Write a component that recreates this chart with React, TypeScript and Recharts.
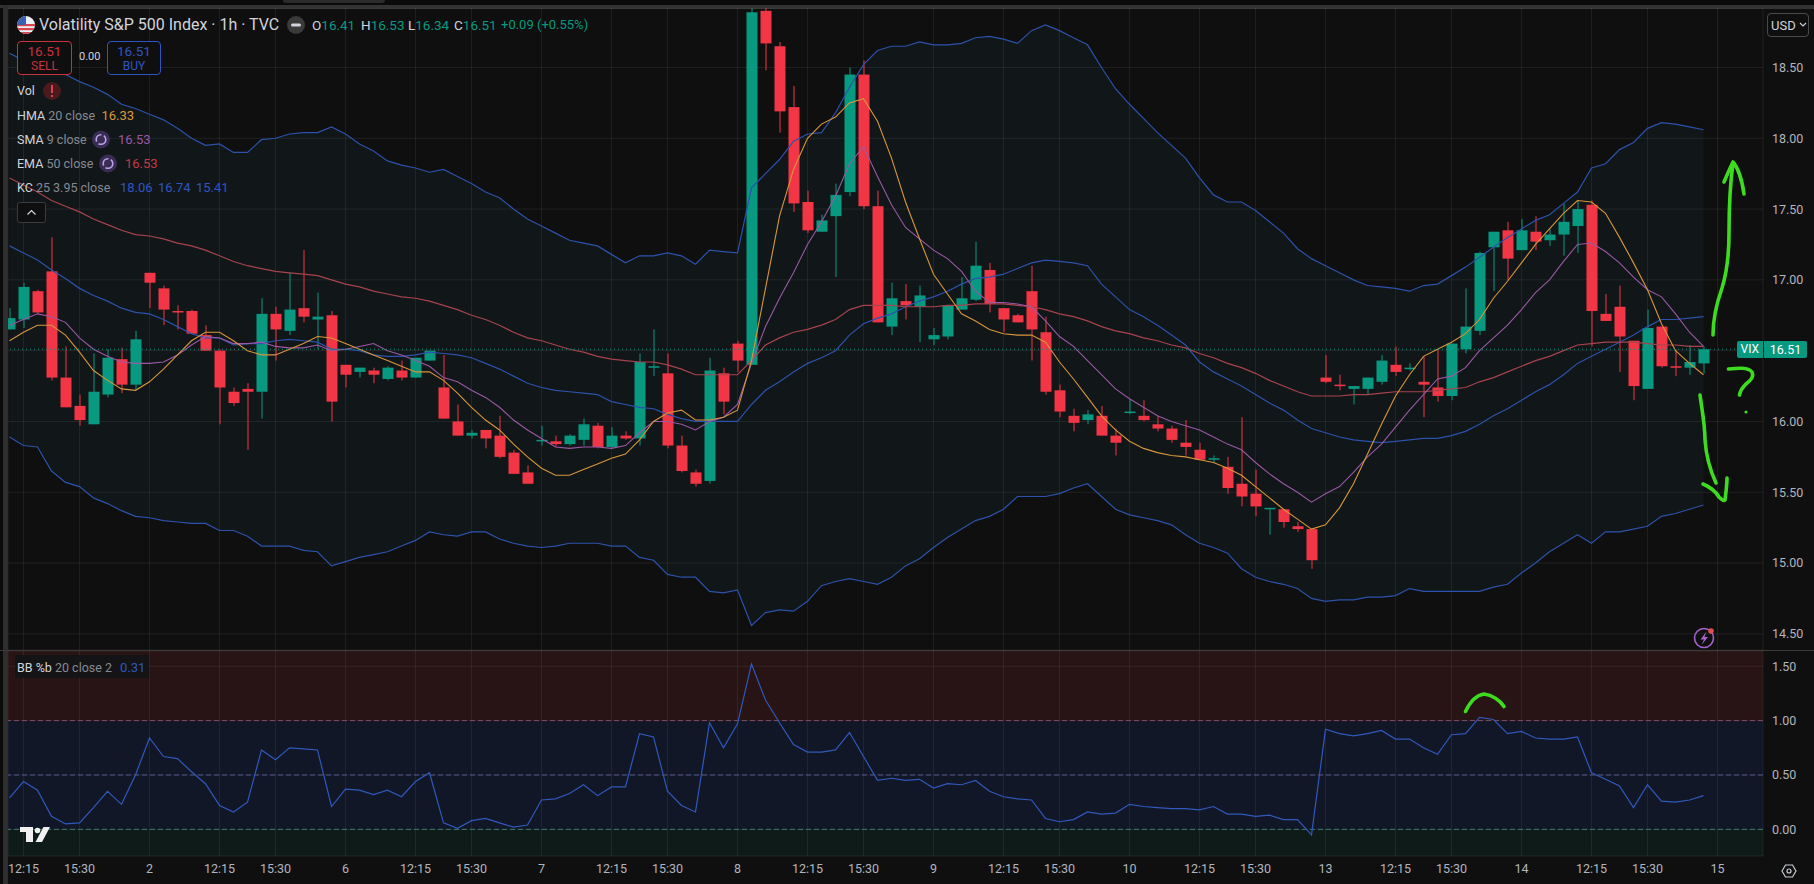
import {
  Area,
  Bar,
  CartesianGrid,
  ComposedChart,
  Line,
  LineChart,
  ReferenceArea,
  ReferenceLine,
  XAxis,
  YAxis,
} from 'recharts';

const OPEN = [
  16.65, 16.72, 16.92, 17.06, 16.31, 16.11, 15.98, 16.19, 16.44, 16.26,
  17.05, 16.94, 16.78, 16.78, 16.61, 16.5, 16.21, 16.23, 16.21, 16.76,
  16.64, 16.8, 16.72, 16.75, 16.4, 16.35, 16.36, 16.3, 16.36, 16.31,
  16.43, 16.24, 16.0, 15.9, 15.94, 15.9, 15.78, 15.64, 15.86, 15.86,
  15.84, 15.87, 15.97, 15.82, 15.9, 15.88, 16.38, 16.34, 15.83, 15.64,
  15.58, 16.34, 16.55, 16.4, 18.9, 18.65, 18.22, 17.55, 17.34, 17.45,
  17.62, 18.45, 17.52, 16.67, 16.85, 16.81, 16.58, 16.6, 16.79, 16.86,
  17.07, 16.8, 16.75, 16.92, 16.63, 16.22, 16.04, 16.01, 16.04, 15.9,
  16.06, 16.04, 15.98, 15.95, 15.85, 15.8, 15.73, 15.68, 15.56, 15.49,
  15.38, 15.38, 15.26, 15.24, 16.31, 16.26, 16.23, 16.23, 16.28, 16.4,
  16.37, 16.28, 16.24, 16.18, 16.51, 16.64, 17.23, 17.35, 17.21, 17.34,
  17.28, 17.32, 17.38, 17.53, 16.76, 16.81, 16.57, 16.23, 16.67, 16.39,
  16.38, 16.41,
];
const HIGH = [
  16.8, 16.98, 16.93, 17.3, 16.53, 16.19, 16.48, 16.51, 16.52, 16.64,
  17.05, 16.96, 16.82, 16.79, 16.68, 16.51, 16.24, 16.27, 16.87, 16.81,
  17.05, 17.21, 16.91, 16.78, 16.4, 16.38, 16.38, 16.39, 16.43, 16.45,
  16.5, 16.47, 16.12, 15.94, 15.94, 16.04, 15.8, 15.69, 15.97, 15.9,
  15.91, 16.02, 15.99, 15.96, 15.93, 16.48, 16.65, 16.48, 15.9, 15.66,
  16.45, 16.38, 16.57, 18.92, 18.92, 18.68, 18.37, 17.63, 17.46, 17.68,
  18.5, 18.55, 17.63, 16.98, 16.97, 16.96, 16.66, 16.82, 17.02, 17.27,
  17.12, 16.8, 16.76, 17.1, 16.74, 16.26, 16.09, 16.08, 16.11, 15.95,
  16.16, 16.15, 16.04, 15.97, 16.01, 15.85, 15.76, 15.75, 16.03, 15.66,
  15.39, 15.38, 15.29, 15.24, 16.47, 16.33, 16.25, 16.31, 16.47, 16.53,
  16.41, 16.46, 16.51, 16.55, 16.94, 17.2, 17.34, 17.41, 17.43, 17.45,
  17.36, 17.54, 17.56, 17.56, 16.9, 16.96, 16.57, 16.79, 16.67, 16.51,
  16.54, 16.53,
];
const LOW = [
  16.65, 16.66, 16.76, 16.29, 16.1, 15.97, 15.98, 16.17, 16.2, 16.22,
  16.8, 16.68, 16.65, 16.62, 16.5, 15.98, 16.11, 15.8, 16.02, 16.43,
  16.61, 16.7, 16.51, 16.0, 16.24, 16.31, 16.27, 16.29, 16.29, 16.31,
  16.43, 16.02, 15.9, 15.88, 15.81, 15.74, 15.63, 15.56, 15.83, 15.82,
  15.83, 15.83, 15.81, 15.81, 15.87, 15.83, 16.32, 15.81, 15.64, 15.54,
  15.56, 16.05, 16.35, 16.4, 18.48, 18.04, 17.48, 17.33, 17.34, 17.02,
  17.59, 17.5, 16.7, 16.61, 16.72, 16.56, 16.54, 16.58, 16.79, 16.85,
  16.77, 16.63, 16.7, 16.43, 16.19, 16.03, 15.93, 15.98, 15.9, 15.76,
  16.05, 16.0, 15.93, 15.85, 15.76, 15.73, 15.71, 15.49, 15.4, 15.33,
  15.2, 15.25, 15.22, 14.96, 16.27, 16.22, 16.12, 16.19, 16.26, 16.32,
  16.36, 16.03, 16.14, 16.15, 16.48, 16.61, 16.92, 17.0, 17.21, 17.21,
  17.24, 17.17, 17.19, 16.53, 16.71, 16.35, 16.15, 16.23, 16.38, 16.32,
  16.33, 16.34,
];
const CLOSE = [
  16.73, 16.95, 16.77, 16.31, 16.1, 16.01, 16.21, 16.45, 16.26, 16.58,
  16.98, 16.79, 16.77, 16.62, 16.5, 16.24, 16.13, 16.21, 16.76, 16.65,
  16.79, 16.74, 16.74, 16.14, 16.33, 16.38, 16.33, 16.38, 16.31, 16.45,
  16.5, 16.02, 15.9, 15.92, 15.88, 15.75, 15.63, 15.56, 15.87, 15.84,
  15.9, 15.98, 15.82, 15.9, 15.88, 16.42, 16.39, 15.83, 15.65, 15.56,
  16.36, 16.14, 16.43, 18.89, 18.67, 18.19, 17.54, 17.35, 17.42, 17.6,
  18.45, 17.52, 16.7, 16.87, 16.82, 16.89, 16.61, 16.82, 16.87, 17.1,
  16.83, 16.72, 16.7, 16.65, 16.21, 16.07, 15.99, 16.05, 15.9, 15.85,
  16.07, 16.01, 15.95, 15.87, 15.82, 15.73, 15.74, 15.53, 15.47, 15.4,
  15.39, 15.29, 15.24, 15.02, 16.28, 16.25, 16.25, 16.31, 16.43, 16.35,
  16.38, 16.26, 16.18, 16.55, 16.67, 17.19, 17.34, 17.15, 17.35, 17.27,
  17.32, 17.41, 17.5, 16.78, 16.71, 16.6, 16.25, 16.66, 16.39, 16.38,
  16.42, 16.51,
];
const KC_UPPER = [
  18.6, 18.55, 18.51, 18.47, 18.45, 18.4, 18.36, 18.31, 18.24, 18.21,
  18.17, 18.13, 18.07, 18.0, 17.95, 17.96, 17.9, 17.9, 17.99, 18.0,
  18.03, 18.04, 18.04, 18.08, 18.03, 17.96, 17.91, 17.84, 17.81, 17.79,
  17.76, 17.78, 17.73, 17.68, 17.62, 17.58, 17.5, 17.43, 17.38, 17.33,
  17.28, 17.26, 17.24, 17.18, 17.12, 17.17, 17.17, 17.19, 17.17, 17.11,
  17.21, 17.2, 17.19, 17.65, 17.75, 17.85, 17.98, 18.03, 18.04, 18.18,
  18.36, 18.52, 18.62, 18.65, 18.65, 18.68, 18.66, 18.66, 18.67, 18.71,
  18.72, 18.7, 18.67, 18.76, 18.8, 18.76, 18.71, 18.66, 18.5, 18.35,
  18.24, 18.14, 18.04, 17.95, 17.86, 17.72, 17.6, 17.55, 17.55, 17.49,
  17.41, 17.33, 17.22, 17.15, 17.1, 17.05, 17.0, 16.96, 16.95, 16.94,
  16.92, 16.96, 16.97, 17.03, 17.09, 17.16, 17.23, 17.3, 17.36, 17.42,
  17.46, 17.54, 17.62, 17.79, 17.82, 17.92, 17.97, 18.07, 18.11, 18.1,
  18.08, 18.06,
];
const KC_MID = [
  17.24, 17.19, 17.14, 17.07, 17.01, 16.94, 16.89, 16.85, 16.8, 16.77,
  16.76, 16.72, 16.67, 16.62, 16.59, 16.59, 16.54, 16.55, 16.55, 16.57,
  16.58, 16.57, 16.56, 16.51, 16.51, 16.5, 16.47, 16.46, 16.46, 16.47,
  16.49, 16.48, 16.47, 16.45, 16.41, 16.37, 16.32, 16.27, 16.24, 16.22,
  16.21, 16.2, 16.19, 16.14, 16.12, 16.1, 16.09, 16.05, 16.02, 16.0,
  16.0, 16.0, 16.0, 16.12, 16.22, 16.28, 16.35, 16.41, 16.45, 16.5,
  16.61, 16.69, 16.73, 16.76, 16.81, 16.85, 16.88, 16.92, 16.97, 17.01,
  17.02, 17.04, 17.08, 17.12, 17.14, 17.13, 17.12, 17.1, 16.97, 16.88,
  16.79, 16.74, 16.68, 16.61, 16.54, 16.42, 16.35, 16.3, 16.25, 16.19,
  16.13, 16.08, 16.01, 15.95, 15.92, 15.89, 15.87, 15.86, 15.85, 15.86,
  15.87, 15.88, 15.88, 15.9, 15.93, 15.98, 16.04, 16.09, 16.15, 16.21,
  16.26, 16.33, 16.41, 16.46, 16.51, 16.56, 16.61, 16.67, 16.72, 16.72,
  16.73, 16.74,
];
const KC_LOWER = [
  15.89, 15.83, 15.82, 15.65, 15.57, 15.54, 15.46, 15.42, 15.37, 15.33,
  15.32, 15.3, 15.29, 15.28, 15.28, 15.23, 15.23, 15.19, 15.12, 15.12,
  15.12, 15.09, 15.08, 14.98, 15.01, 15.04, 15.06, 15.08, 15.12, 15.16,
  15.22, 15.2, 15.19, 15.22, 15.22, 15.17, 15.14, 15.12, 15.11, 15.12,
  15.14, 15.14, 15.14, 15.12, 15.12, 15.04, 15.02, 14.92, 14.9, 14.9,
  14.8, 14.79, 14.81, 14.56, 14.65, 14.67, 14.66, 14.73, 14.84, 14.87,
  14.89, 14.87, 14.85, 14.9, 14.98, 15.03, 15.11, 15.18, 15.24, 15.3,
  15.33, 15.38, 15.47, 15.47, 15.47, 15.49, 15.53, 15.56, 15.47, 15.38,
  15.34, 15.32, 15.3, 15.27, 15.2, 15.14, 15.11, 15.07, 14.96, 14.9,
  14.87, 14.85, 14.82, 14.75, 14.73, 14.74, 14.74, 14.76, 14.76, 14.77,
  14.82, 14.8, 14.8, 14.8, 14.8, 14.8, 14.83, 14.85, 14.93, 15.0,
  15.08, 15.14, 15.2, 15.14, 15.22, 15.22, 15.24, 15.26, 15.33, 15.35,
  15.38, 15.41,
];
const HMA = [
  16.57, 16.63, 16.68, 16.68, 16.61, 16.49, 16.36, 16.29, 16.23, 16.22,
  16.28, 16.37, 16.47, 16.57, 16.63, 16.63, 16.57, 16.5, 16.47, 16.47,
  16.51, 16.55, 16.6, 16.59, 16.55, 16.51, 16.47, 16.43, 16.39, 16.35,
  16.35, 16.29, 16.2, 16.1, 16.01, 15.94, 15.84, 15.75, 15.67, 15.62,
  15.62, 15.66, 15.7, 15.74, 15.77, 15.87, 16.0, 16.06, 16.08, 16.01,
  16.01, 16.03, 16.08, 16.43, 16.94, 17.45, 17.78, 18.0, 18.1, 18.15,
  18.25, 18.28, 18.12, 17.86, 17.55, 17.29, 17.04, 16.9, 16.76, 16.71,
  16.65, 16.62, 16.61, 16.61, 16.56, 16.42, 16.3, 16.17, 16.04, 15.94,
  15.86, 15.81, 15.78, 15.76, 15.75, 15.73, 15.71, 15.67, 15.62, 15.54,
  15.46, 15.38, 15.31, 15.24, 15.27, 15.39, 15.56, 15.77, 15.98, 16.18,
  16.33, 16.46, 16.51, 16.56, 16.62, 16.72, 16.87, 16.99, 17.12, 17.25,
  17.36, 17.47, 17.56, 17.55, 17.47, 17.3, 17.12, 16.93, 16.69, 16.5,
  16.41, 16.33,
];
const SMA = [
  16.68, 16.72, 16.76, 16.74, 16.7, 16.59, 16.51, 16.46, 16.42, 16.41,
  16.41, 16.42, 16.47, 16.54, 16.6, 16.59, 16.55, 16.55, 16.56, 16.53,
  16.52, 16.52, 16.54, 16.5, 16.51, 16.53, 16.55, 16.5, 16.47, 16.43,
  16.39, 16.31, 16.28, 16.22, 16.17, 16.1, 16.01, 15.94, 15.88, 15.82,
  15.81, 15.82, 15.82, 15.81, 15.83, 15.92, 16.0, 16.0, 15.98, 15.94,
  16.0, 16.03, 16.12, 16.41, 16.67, 16.87, 17.05, 17.25, 17.41, 17.59,
  17.82, 17.94, 17.73, 17.53, 17.37, 17.29, 17.21, 17.15, 17.06, 16.92,
  16.84, 16.84, 16.83, 16.81, 16.71, 16.6, 16.53, 16.43, 16.33, 16.23,
  16.16, 16.1, 16.04, 16.0, 15.97, 15.94, 15.89, 15.84, 15.8, 15.71,
  15.63, 15.56, 15.5, 15.43, 15.49, 15.54, 15.64, 15.75, 15.84, 15.96,
  16.08, 16.19, 16.3, 16.32, 16.38, 16.5, 16.59, 16.68, 16.79, 16.91,
  17.0, 17.13, 17.25, 17.26, 17.2, 17.12, 17.02, 16.93, 16.88, 16.76,
  16.63, 16.53,
];
const EMA = [
  17.72, 17.67, 17.62, 17.56, 17.52, 17.48, 17.43, 17.39, 17.35, 17.32,
  17.31, 17.29, 17.26, 17.24, 17.21, 17.17, 17.13, 17.1, 17.08, 17.06,
  17.05, 17.04, 17.03, 17.0, 16.97, 16.95, 16.92, 16.9, 16.88, 16.87,
  16.85, 16.82, 16.79, 16.75, 16.72, 16.68, 16.63, 16.59, 16.57, 16.54,
  16.51, 16.49, 16.46, 16.44, 16.43, 16.42, 16.42, 16.4, 16.37, 16.33,
  16.33, 16.33, 16.33, 16.43, 16.54, 16.59, 16.63, 16.65, 16.68, 16.72,
  16.79, 16.82, 16.82, 16.82, 16.81, 16.81, 16.81, 16.82, 16.82, 16.83,
  16.83, 16.83, 16.82, 16.81, 16.79, 16.76, 16.74, 16.71, 16.67, 16.64,
  16.62, 16.59, 16.57, 16.54, 16.52, 16.48, 16.45, 16.41, 16.38, 16.34,
  16.29, 16.25, 16.21, 16.18, 16.18, 16.18, 16.19, 16.19, 16.2, 16.21,
  16.21, 16.21, 16.22, 16.23, 16.24, 16.28, 16.31, 16.35, 16.39, 16.43,
  16.46, 16.5, 16.54, 16.55, 16.56, 16.56, 16.56, 16.55, 16.54, 16.54,
  16.53, 16.53,
];
const BB_PCT = [
  0.29, 0.44, 0.36, 0.12, 0.05, 0.06, 0.2, 0.35, 0.23, 0.5,
  0.84, 0.67, 0.65, 0.53, 0.42, 0.22, 0.16, 0.25, 0.73, 0.64,
  0.75, 0.74, 0.73, 0.21, 0.37, 0.36, 0.32, 0.36, 0.3, 0.44,
  0.52, 0.06, 0.01, 0.08, 0.1, 0.06, 0.02, 0.04, 0.27, 0.28,
  0.33, 0.41, 0.31, 0.39, 0.39, 0.88, 0.85, 0.35, 0.22, 0.16,
  0.98, 0.75, 0.97, 1.52, 1.19, 0.98, 0.78, 0.71, 0.71, 0.73,
  0.89, 0.67, 0.45, 0.47, 0.45, 0.46, 0.38, 0.42, 0.41, 0.45,
  0.35, 0.3, 0.28, 0.27, 0.1, 0.07, 0.09, 0.16, 0.14, 0.15,
  0.23, 0.21, 0.2, 0.19, 0.19, 0.18, 0.21, 0.14, 0.14, 0.12,
  0.13, 0.09, 0.09, -0.05, 0.92, 0.88, 0.86, 0.88, 0.91, 0.83,
  0.83, 0.75, 0.69, 0.87, 0.88, 1.03, 1.01, 0.88, 0.9, 0.84,
  0.83, 0.83, 0.85, 0.52, 0.46, 0.4, 0.2, 0.41, 0.26, 0.25,
  0.27, 0.31,
];

const TIME_TICKS = [
  1, 5, 10, 15, 19, 24, 29, 33, 38, 43, 47, 52, 57, 61, 66, 71, 75, 80, 85, 89,
  94, 99, 103, 108, 113, 117, 122,
];
const TIME_LABELS = [
  '12:15', '15:30', '2', '12:15', '15:30', '6', '12:15', '15:30', '7', '12:15',
  '15:30', '8', '12:15', '15:30', '9', '12:15', '15:30', '10', '12:15', '15:30',
  '13', '12:15', '15:30', '14', '12:15', '15:30', '15',
];
const PRICE_TICKS = [14.5, 15, 15.5, 16, 16.5, 17, 17.5, 18, 18.5];
const PRICE_TICKS_SHOWN = [14.5, 15, 15.5, 16, 17, 17.5, 18, 18.5];
const BB_TICKS = [0, 0.5, 1, 1.5];

const LAST_PRICE = 16.51;

const GREEN = '#089981';
const RED = '#f23645';
const KC_BLUE = '#2c52ad';
const BB_BLUE = '#3058bd';
const HMA_ORANGE = '#d9963a';
const SMA_PURPLE = '#9a58a6';
const EMA_RED = '#a8434e';
const GRID = 'rgba(255,255,255,0.075)';
const AXIS_TEXT = '#b2b5be';
const FONT = 'Roboto, sans-serif';
const MARKER_GREEN = '#3edc1f';

const X_DOMAIN: [number, number] = [-0.107, 125.25];

const priceData = OPEN.map((open, i) => ({
  i,
  open,
  high: HIGH[i],
  low: LOW[i],
  close: CLOSE[i],
  range: [LOW[i], HIGH[i]],
  channel: [KC_LOWER[i], KC_UPPER[i]],
  kcUpper: KC_UPPER[i],
  kcMid: KC_MID[i],
  kcLower: KC_LOWER[i],
  hma: HMA[i],
  sma: SMA[i],
  ema: EMA[i],
}));
const bbData = BB_PCT.map((value, i) => ({ i, value }));

function formatTime(index: number): string {
  return TIME_LABELS[TIME_TICKS.indexOf(index)] ?? '';
}

function Candle(props: any) {
  const { x, y, width, height, payload } = props;
  const { open, high, low, close } = payload;
  const color = close >= open ? GREEN : RED;
  const perUnit = height / (high - low);
  const bodyTop = y + (high - Math.max(open, close)) * perUnit;
  const bodyHeight = Math.max(Math.abs(open - close) * perUnit, 1.5);
  const center = x + width / 2;
  return (
    <g>
      <rect x={center - 0.5} y={y} width={1} height={height} fill={color} />
      <rect x={center - 5.5} y={bodyTop} width={11} height={bodyHeight} fill={color} />
    </g>
  );
}

function LegendRow({ top, name, params }: { top: number; name: string; params?: string }) {
  return (
    <div style={{ position: 'absolute', left: 17, top, height: 18, lineHeight: '18px', fontSize: 12.5, whiteSpace: 'nowrap' }}>
      <span style={{ color: '#d1d4dc' }}>{name}</span>
      {params && <span style={{ color: '#868993' }}> {params}</span>}
    </div>
  );
}

function Abs({ left, top, color, size = 13, children }: { left: number; top: number; color: string; size?: number; children: React.ReactNode }) {
  return (
    <span style={{ position: 'absolute', left, top, color, fontSize: size, lineHeight: '18px', whiteSpace: 'nowrap' }}>
      {children}
    </span>
  );
}

function Header() {
  const pair = (left: number, label: string, value: string) => (
    <span style={{ position: 'absolute', left, top: 16, fontSize: 13.5, lineHeight: '18px' }}>
      <span style={{ color: '#d1d4dc' }}>{label}</span>
      <span style={{ color: GREEN }}>{value}</span>
    </span>
  );
  const tradeBox = (left: number, width: number, color: string, label: string) => (
    <div
      style={{
        position: 'absolute',
        left,
        top: 41,
        width,
        height: 32,
        border: `1px solid ${color}`,
        borderRadius: 4,
        textAlign: 'center',
        color,
        lineHeight: '15px',
        background: '#0f0f0f',
      }}
    >
      <div style={{ fontSize: 13.5, marginTop: 2 }}>16.51</div>
      <div style={{ fontSize: 12 }}>{label}</div>
    </div>
  );
  return (
    <div style={{ position: 'absolute', inset: 0, fontFamily: FONT, pointerEvents: 'none' }}>
      <span style={{ position: 'absolute', left: 39, top: 16, color: '#d1d4dc', fontSize: 16, lineHeight: '18px', whiteSpace: 'nowrap' }}>
        Volatility S&amp;P 500 Index · 1h · TVC
      </span>
      {pair(312, 'O', '16.41')}
      {pair(361, 'H', '16.53')}
      {pair(408, 'L', '16.34')}
      {pair(454, 'C', '16.51')}
      <Abs left={501} top={16} color={GREEN}>+0.09 (+0.55%)</Abs>

      {tradeBox(17, 53, '#c8323e', 'SELL')}
      <Abs left={79} top={48} color="#d1d4dc" size={11}>0.00</Abs>
      {tradeBox(107, 52, '#2f55c4', 'BUY')}

      <LegendRow top={82} name="Vol" />
      <LegendRow top={107} name="HMA" params="20 close" />
      <Abs left={101.5} top={107} color={HMA_ORANGE}>16.33</Abs>
      <LegendRow top={131} name="SMA" params="9 close" />
      <Abs left={118} top={131} color={SMA_PURPLE}>16.53</Abs>
      <LegendRow top={155} name="EMA" params="50 close" />
      <Abs left={125} top={155} color="#c23a46">16.53</Abs>
      <LegendRow top={179} name="KC" params="25 3.95 close" />
      <Abs left={120} top={179} color="#2f55c4">18.06</Abs>
      <Abs left={158} top={179} color="#2f55c4">16.74</Abs>
      <Abs left={196} top={179} color="#2f55c4">15.41</Abs>

      <div style={{ position: 'absolute', left: 15, top: 655, width: 134, height: 23, background: '#141416' }} />
      <LegendRow top={659} name="BB %b" params="20 close 2" />
      <Abs left={120} top={659} color="#2f55c4">0.31</Abs>

      <div style={{ position: 'absolute', left: 1767, top: 13, width: 42, height: 24, border: '1px solid #4a4a4a', borderRadius: 4, boxSizing: 'border-box', color: '#d1d4dc', fontSize: 13, lineHeight: '23px', paddingLeft: 3 }}>
        USD
      </div>

      <div style={{ position: 'absolute', left: 1737, top: 341, width: 25.5, height: 17, background: GREEN, borderRadius: '2px 0 0 2px', color: '#fff', fontSize: 12, lineHeight: '17px', textAlign: 'center' }}>
        VIX
      </div>
      <div style={{ position: 'absolute', left: 1764, top: 341, width: 43, height: 17, background: GREEN, borderRadius: '0 2px 2px 0', color: '#fff', fontSize: 12.5, lineHeight: '17px', textAlign: 'center' }}>
        16.51
      </div>
    </div>
  );
}

// icons, frame strips and the hand-drawn marks sit on top of the two panes
function Overlay() {
  return (
    <svg width={1814} height={884} style={{ position: 'absolute', left: 0, top: 0, pointerEvents: 'none' }}>
      <defs>
        <clipPath id="flag">
          <circle cx={26} cy={25} r={9} />
        </clipPath>
      </defs>
      <g clipPath="url(#flag)">
        <rect x={17} y={16} width={18} height={18} fill="#eceff4" />
        <rect x={17} y={28} width={18} height={2.2} fill="#d9434e" />
        <rect x={17} y={32} width={18} height={2.2} fill="#d9434e" />
        <rect x={17} y={24} width={18} height={2.2} fill="#d9434e" />
        <rect x={17} y={16} width={9} height={9} fill="#3a5fb0" />
      </g>

      <circle cx={296} cy={25} r={9} fill="#3a3a3a" />
      <rect x={291} y={23.5} width={10} height={3} rx={1.5} fill="#d1d4dc" />

      <circle cx={52} cy={91} r={9} fill="#4a1a1f" />
      <rect x={51} y={85} width={2} height={8} fill="#e0404c" />
      <rect x={51} y={95} width={2} height={2} fill="#e0404c" />

      {[
        [101, 139.5],
        [108, 163.5],
      ].map(([cx, cy]) => (
        <g key={cx}>
          <circle cx={cx} cy={cy} r={9} fill="#3a2c54" />
          <circle cx={cx} cy={cy} r={4.8} fill="none" stroke="#b9a4e8" strokeWidth={1.6} strokeDasharray="10 2.5" />
        </g>
      ))}

      <rect x={17.5} y={202.5} width={28} height={20} rx={2} fill="#0f0f0f" stroke="#3c3c3c" />
      <path d="M27.5 214.5 L31.5 210.5 L35.5 214.5" fill="none" stroke="#d1d4dc" strokeWidth={1.2} />

      <path d="M1800 23 L1803 26 L1806 23" fill="none" stroke="#d1d4dc" strokeWidth={1.1} />

      <circle cx={1704} cy={638} r={9.5} fill="none" stroke="#a463cc" strokeWidth={1.6} />
      <path d="M1706.5 631.5 L1700.5 639.5 L1704 639.5 L1701.5 645 L1708 637 L1704.5 637 Z" fill="#a463cc" />
      <circle cx={1711} cy={631} r={2.8} fill="#e0504a" />

      <path d="M1782 871 L1785.5 865 L1792.5 865 L1796 871 L1792.5 877 L1785.5 877 Z" fill="none" stroke="#c9ccd4" strokeWidth={1.2} />
      <circle cx={1789} cy={871} r={2} fill="none" stroke="#c9ccd4" strokeWidth={1.2} />

      <path d="M20 827 H33 V842 H26 V832 H20 Z" fill="#f0f0f0" />
      <circle cx={37.5} cy={830.5} r={2.8} fill="#f0f0f0" />
      <path d="M43.5 827 H50 L42 842 H35.5 Z" fill="#f0f0f0" />

      <g fill="none" stroke={MARKER_GREEN} strokeWidth={3.6} strokeLinecap="round" strokeLinejoin="round">
        <path d="M1713 335 C1713 320 1716 305 1722 288 C1727 272 1729 255 1729 233 C1729 210 1730 185 1733 163" />
        <path d="M1724 182 C1727 175 1730 168 1733 162 C1738 168 1742 180 1744 194" />
        <path d="M1700 395 C1702 410 1705 425 1705 440 C1706 455 1710 470 1716 483" />
        <path d="M1703 484 C1710 487 1716 492 1719 497 C1722 500 1724 501 1725 500 C1726 492 1727 485 1727 478" />
        <path d="M1728.5 369 C1738 368 1748 367 1752 372 C1755 378 1748 382 1745 385 C1742 388 1740 392 1739.5 395" />
        <path d="M1465.5 711.5 C1470 702 1477 695 1484 694 C1492 695 1500 700 1504 706.5" />
      </g>
      <circle cx={1746} cy={412} r={1.6} fill={MARKER_GREEN} />
    </svg>
  );
}

export default function App() {
  return (
    <div
      style={{
        position: 'absolute',
        left: 0,
        top: 0,
        width: 1814,
        height: 884,
        background: '#0f0f0f',
        overflow: 'hidden',
      }}
    >
      <div style={{ position: 'absolute', left: 0, top: 0, width: 1814, height: 5, background: '#0a0a0a' }} />
      <div style={{ position: 'absolute', left: 283, top: 0, width: 102, height: 3, background: '#2b2b2b', borderRadius: '0 0 3px 3px' }} />
      <div style={{ position: 'absolute', left: 0, top: 5, width: 1814, height: 3.5, background: '#333333' }} />
      <div style={{ position: 'absolute', left: 3, top: 5, width: 5, height: 879, background: '#2e2e2e' }} />
      <div style={{ position: 'absolute', left: 0, top: 8, width: 3, height: 876, background: '#0a0a0a' }} />

      <div style={{ position: 'absolute', left: 8, top: 8 }}>
        <ComposedChart
          width={1806}
          height={642}
          data={priceData}
          margin={{ top: 0, right: 0, bottom: 0, left: 0 }}
        >
          <CartesianGrid stroke={GRID} />
          <XAxis
            dataKey="i"
            type="number"
            scale="linear"
            domain={X_DOMAIN}
            allowDataOverflow
            ticks={TIME_TICKS}
            interval={0}
            hide
          />
          <YAxis
            orientation="right"
            width={51}
            domain={[14.386, 18.92]}
            allowDataOverflow
            ticks={PRICE_TICKS}
            interval={0}
            axisLine={false}
            tickLine={false}
            tickSize={0}
            tickMargin={9}
            tickFormatter={(v: number) => (PRICE_TICKS_SHOWN.includes(v) ? v.toFixed(2) : '')}
            tick={{ fill: AXIS_TEXT, fontSize: 12.5, fontFamily: FONT }}
          />
          <Area
            dataKey="channel"
            stroke="none"
            fill="#40a0c0"
            fillOpacity={0.05}
            dot={false}
            activeDot={false}
            isAnimationActive={false}
          />
          <Line dataKey="kcUpper" stroke={KC_BLUE} strokeWidth={1.2} dot={false} isAnimationActive={false} />
          <Line dataKey="kcMid" stroke={KC_BLUE} strokeWidth={1.2} dot={false} isAnimationActive={false} />
          <Line dataKey="kcLower" stroke={KC_BLUE} strokeWidth={1.2} dot={false} isAnimationActive={false} />
          <Line dataKey="ema" stroke={EMA_RED} strokeWidth={1.2} dot={false} isAnimationActive={false} />
          <Line dataKey="sma" stroke={SMA_PURPLE} strokeWidth={1.1} dot={false} isAnimationActive={false} />
          <Line dataKey="hma" stroke={HMA_ORANGE} strokeWidth={1.1} dot={false} isAnimationActive={false} />
          <ReferenceLine y={LAST_PRICE} stroke={GREEN} strokeDasharray="1 3" />
          <Bar dataKey="range" barSize={11} shape={Candle} isAnimationActive={false} />
        </ComposedChart>
      </div>

      <div style={{ position: 'absolute', left: 0, top: 650, width: 1814, height: 1, background: '#3a3a3a' }} />

      <div style={{ position: 'absolute', left: 8, top: 651 }}>
        <LineChart
          width={1806}
          height={233}
          data={bbData}
          margin={{ top: 0, right: 0, bottom: 0, left: 0 }}
        >
          <CartesianGrid stroke={GRID} />
          <XAxis
            dataKey="i"
            type="number"
            scale="linear"
            domain={X_DOMAIN}
            allowDataOverflow
            ticks={TIME_TICKS}
            interval={0}
            height={28}
            axisLine={false}
            tickLine={false}
            tickSize={0}
            tickMargin={8}
            tickFormatter={formatTime}
            tick={{ fill: AXIS_TEXT, fontSize: 12.5, fontFamily: FONT }}
          />
          <YAxis
            orientation="right"
            width={51}
            domain={[-0.245, 1.64]}
            allowDataOverflow
            ticks={BB_TICKS}
            interval={0}
            axisLine={false}
            tickLine={false}
            tickSize={0}
            tickMargin={9}
            tickFormatter={(v: number) => v.toFixed(2)}
            tick={{ fill: AXIS_TEXT, fontSize: 12.5, fontFamily: FONT }}
          />
          <ReferenceArea y1={1} y2={1.64} fill={RED} fillOpacity={0.11} stroke="none" />
          <ReferenceArea y1={0} y2={1} fill="#2962ff" fillOpacity={0.1} stroke="none" />
          <ReferenceArea y1={-0.245} y2={0} fill={GREEN} fillOpacity={0.09} stroke="none" />
          <ReferenceLine y={1} stroke="#7d4d60" strokeDasharray="5 3" />
          <ReferenceLine y={0.5} stroke="#565a8c" strokeDasharray="5 3" />
          <ReferenceLine y={0} stroke="#3f7a70" strokeDasharray="5 3" />
          <Line dataKey="value" stroke={BB_BLUE} strokeWidth={1.2} dot={false} isAnimationActive={false} />
        </LineChart>
      </div>

      <Header />
      <Overlay />
    </div>
  );
}
